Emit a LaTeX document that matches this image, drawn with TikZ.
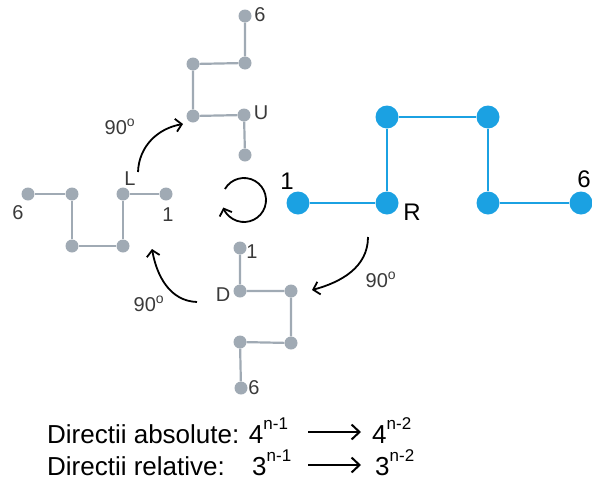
\documentclass[tikz,border=0pt]{standalone}
\usepackage{fontspec}
\setmainfont{Liberation Sans}
\usetikzlibrary{arrows.meta,calc}
\definecolor{bl}{HTML}{1BA1E2}
\definecolor{gr}{HTML}{A0AAB4}
\definecolor{tx}{HTML}{3A3A3A}
\newcommand\fs[1]{\fontsize{#1}{#1}\selectfont}
\newcommand\sups[1]{\raisebox{14pt}{\fs{17}#1}}
\begin{document}
\begin{tikzpicture}[x=1pt,y=1pt,
 gdot/.style={circle,fill=gr,inner sep=0,minimum size=13pt},
 bdot/.style={circle,fill=bl,inner sep=0,minimum size=23pt},
 gline/.style={draw=gr,line width=2.2pt},
 bline/.style={draw=bl,line width=2pt},
 lbl/.style={inner sep=0,text=tx,font=\fs{20}},
 blbl/.style={inner sep=0,text=black,font=\fs{24}},
 curv/.style={line width=1.8pt,-{Straight Barb[length=6pt,width=13pt,line width=1.8pt]}},
 deg/.style={inner sep=0,text=tx,font=\fs{20}},
 txt/.style={inner sep=0,anchor=base west,font=\fs{26}},
 tarrow/.style={line width=2.2pt,-{Straight Barb[length=8pt,width=15pt,line width=2pt]}}]
\useasboundingbox (0,0) rectangle (592,-493);

% blue chain (R)
\node[bdot] (r1) at (298,-203) {};
\node[bdot] (r2) at (387,-203) {};
\node[bdot] (r3) at (387,-117) {};
\node[bdot] (r4) at (488,-117) {};
\node[bdot] (r5) at (488,-203) {};
\node[bdot] (r6) at (581,-203) {};
\draw[bline] (r1)--(r2)--(r3)--(r4)--(r5)--(r6);
\node[blbl] (r1l) at (287,-181) {1};
\node[blbl] (r2l) at (412,-212) {R};
\node[blbl] (r6l) at (584,-179) {6};

% up chain (U)
\node[gdot] (u1) at (245,-155) {};
\node[gdot] (u2) at (244,-115) {};
\node[gdot] (u3) at (193,-116) {};
\node[gdot] (u4) at (193,-64) {};
\node[gdot] (u5) at (245,-63) {};
\node[gdot] (u6) at (245,-16) {};
\draw[gline] (u1)--(u2)--(u3)--(u4)--(u5)--(u6);
\node[lbl] (u6l) at (260,-15) {6};
\node[lbl] (u2l) at (261,-113) {U};

% left chain (L)
\node[gdot] (l1) at (166,-194) {};
\node[gdot] (l2) at (123,-194) {};
\node[gdot] (l3) at (123,-246) {};
\node[gdot] (l4) at (72,-246) {};
\node[gdot] (l5) at (72,-194) {};
\node[gdot] (l6) at (28,-194) {};
\draw[gline] (l1)--(l2)--(l3)--(l4)--(l5)--(l6);
\node[lbl] (l2l) at (130,-179) {L};
\node[lbl] (l6l) at (18,-213) {6};
\node[lbl] (l1l) at (168,-215) {1};

% down chain (D)
\node[gdot] (d1) at (240,-248) {};
\node[gdot] (d2) at (240,-291) {};
\node[gdot] (d3) at (291,-291) {};
\node[gdot] (d4) at (291,-343) {};
\node[gdot] (d5) at (240,-342) {};
\node[gdot] (d6) at (241,-388) {};
\draw[gline] (d1)--(d2)--(d3)--(d4)--(d5)--(d6);
\node[lbl] (d1l) at (252,-252) {1};
\node[lbl] (d2l) at (223,-295) {D};
\node[lbl] (d6l) at (254,-388) {6};

% rotation symbol
\coordinate (rc) at (244,-200);
\draw[curv] ($(rc)+(150:22)$) arc[start angle=150,end angle=-160,radius=22];

% curved arrows
\coordinate (a1s) at (138,-172);
\coordinate (a1e) at (183,-124);
\draw[curv] (a1s) to[out=88,in=190] (a1e);
\node[deg] (g1) at (120,-127) {90\textsuperscript{o}};

\coordinate (a2s) at (368,-237);
\coordinate (a2e) at (312,-290);
\draw[curv] (a2s) to[out=-90,in=15] (a2e);
\node[deg] (g2) at (381,-280) {90\textsuperscript{o}};

\coordinate (a3s) at (197,-302);
\coordinate (a3e) at (152,-249);
\draw[curv] (a3s) to[out=178,in=-80] (a3e);
\node[deg] (g3) at (149,-304) {90\textsuperscript{o}};

% text lines
\node[txt] (t1) at (47,-443) {Directii absolute: 4\sups{n-1}};
\node[txt] (t1b) at (372,-443) {4\sups{n-2}};
\draw[tarrow] ($(t1b.base west)+(-64,11)$) -- ($(t1b.base west)+(-11,11)$);
\node[txt] (t2) at (47,-475) {Directii relative:};
\node[txt] (t2a) at (252,-475) {3\sups{n-1}};
\node[txt] (t2b) at (375,-475) {3\sups{n-2}};
\draw[tarrow] ($(t2a.base west)+(56,10)$) -- ($(t2b.base west)+(-14,10)$);
\end{tikzpicture}
\end{document}
